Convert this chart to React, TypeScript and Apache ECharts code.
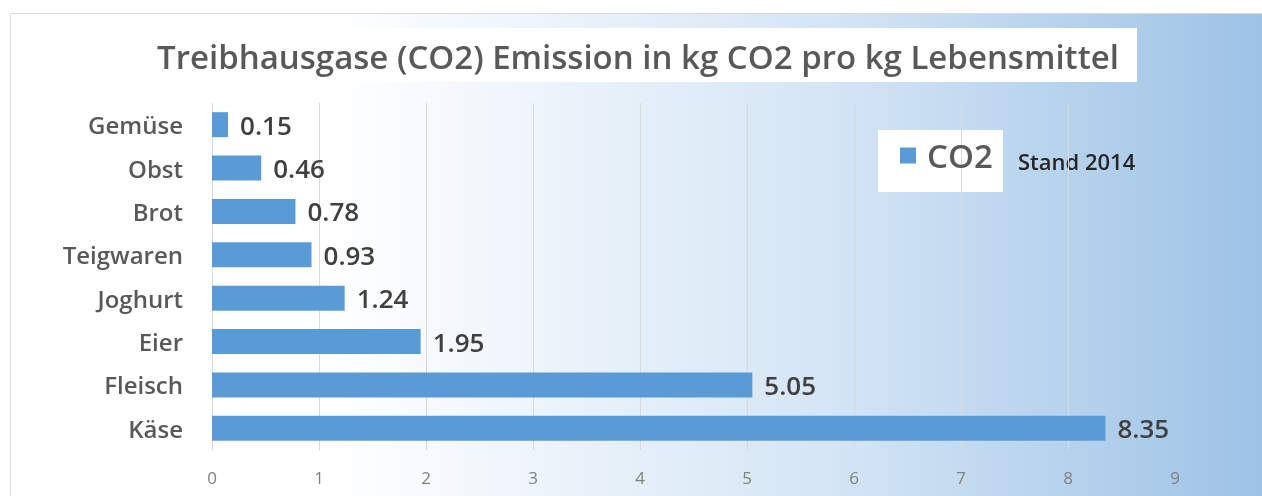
import React, { useEffect, useRef } from "react";
import * as echarts from "echarts";

const TITLE = "Treibhausgase (CO2) Emission in kg CO2 pro kg Lebensmittel";
const SERIES_NAME = "CO2";
const NOTE = "Stand 2014";
const categories = ["Gemüse", "Obst", "Brot", "Teigwaren", "Joghurt", "Eier", "Fleisch", "Käse"];
const values = [0.15, 0.46, 0.78, 0.93, 1.24, 1.95, 5.05, 8.35];
const xMin = 0;
const xMax = 9;
const xInterval = 1;

const FONT = "'Open Sans', 'Noto Sans', sans-serif";

export default function App() {
  const ref = useRef<HTMLDivElement>(null);
  useEffect(() => {
    if (!ref.current) return;
    const chart = echarts.init(ref.current, undefined, { renderer: "svg" });
    chart.setOption({
      animation: false,
      textStyle: { fontFamily: FONT },
      graphic: [
        {
          type: "rect",
          z: -10,
          silent: true,
          shape: { x: 10.5, y: 13.5, width: 1270, height: 500 },
          style: {
            fill: new echarts.graphic.LinearGradient(0, 0, 1, 0, [
              { offset: 0, color: "#ffffff" },
              { offset: 0.25, color: "#ffffff" },
              { offset: 0.65, color: "#d4e5f5" },
              { offset: 1, color: "#9bc1e5" },
            ]),
            stroke: "#d9d9d9",
            lineWidth: 1,
          },
        },
        {
          type: "rect",
          z: -5,
          silent: true,
          shape: { x: 140, y: 28, width: 997, height: 54 },
          style: { fill: "#ffffff" },
        },
        {
          type: "rect",
          z: -5,
          silent: true,
          shape: { x: 878, y: 130, width: 125, height: 62 },
          style: { fill: "#ffffff" },
        },
        {
          type: "text",
          left: 1018,
          top: 150,
          style: {
            text: NOTE,
            fill: "#262626",
            font: `600 22px ${FONT}`,
          },
        },
      ],
      title: {
        text: TITLE,
        left: 638,
        top: 56,
        textAlign: "center",
        textVerticalAlign: "middle",
        padding: 0,
        textStyle: {
          fontFamily: FONT,
          fontSize: 33,
          fontWeight: 600,
          color: "#595959",
        },
      },
      legend: {
        data: [SERIES_NAME],
        left: 900,
        top: 139,
        padding: 0,
        itemWidth: 16,
        itemHeight: 16,
        itemGap: 10,
        icon: "rect",
        textStyle: {
          fontFamily: FONT,
          fontSize: 33,
          fontWeight: 600,
          color: "#595959",
          padding: [0, 0, 0, 6],
        },
      },
      grid: {
        left: 212,
        right: 87,
        top: 103,
        height: 347,
        containLabel: false,
      },
      xAxis: {
        type: "value",
        min: xMin,
        max: xMax,
        interval: xInterval,
        axisLine: { show: false },
        axisTick: { show: false },
        axisLabel: {
          color: "#808080",
          fontSize: 17,
          margin: 19,
          fontFamily: FONT,
        },
        splitLine: {
          show: true,
          lineStyle: { color: "#d9d9d9", width: 1 },
          showMaxLine: false,
        },
      },
      yAxis: {
        type: "category",
        data: categories,
        inverse: true,
        axisLine: { show: false },
        axisTick: { show: false },
        axisLabel: {
          color: "#595959",
          fontSize: 24,
          fontWeight: 600,
          margin: 29,
          fontFamily: FONT,
        },
        splitLine: { show: false },
      },
      series: [
        {
          name: SERIES_NAME,
          type: "bar",
          data: values,
          barWidth: 25,
          itemStyle: { color: "#5b9bd5" },
          label: {
            show: true,
            position: "right",
            distance: 12,
            color: "#404040",
            fontSize: 26,
            fontWeight: 600,
            fontFamily: FONT,
            formatter: (p: any) => Number(p.value).toFixed(2),
          },
        },
      ],
    });
    return () => chart.dispose();
  }, []);
  return (
    <div
      ref={ref}
      style={{ position: "fixed", left: 0, top: 0, width: 1262, height: 496 }}
    />
  );
}
